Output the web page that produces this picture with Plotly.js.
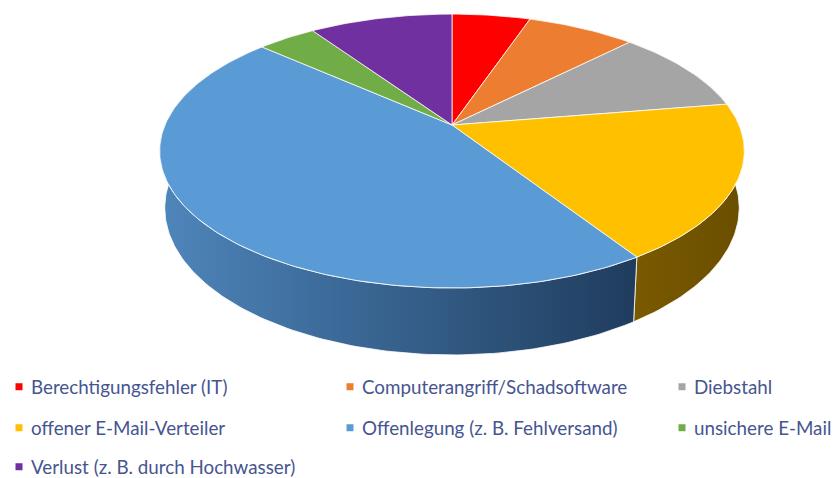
<!DOCTYPE html>
<html><head><meta charset="utf-8">
<script src="https://cdn.plot.ly/plotly-3.0.1.min.js"></script>
<style>
html,body{margin:0;padding:0;background:#fff}
#chart{width:834px;height:478px}
.legendpoints{transform:translateX(8px)}
</style></head><body><div id="chart"></div>
<script>
const categories = ['Berechtigungsfehler (IT)','Computerangriff/Schadsoftware','Diebstahl','offener E-Mail-Verteiler','Offenlegung (z. B. Fehlversand)','unsichere E-Mail','Verlust (z. B. durch Hochwasser)'];
const shares = [5.2,7.2,10,18.5,45.7,3.9,9.5];
const colors = ['#ff0000','#ed7d31','#a5a5a5','#ffc000','#5b9bd5','#70ad47','#7030a0'];
const sideColors = [
  [[0,'#800000'],[1,'#800000']],
  [[0,'#77401a'],[1,'#77401a']],
  [[0,'#555555'],[1,'#555555']],
  [[0,'#7a5a00'],[1,'#6a4e00']],
  [[0,'#4f86ba'],[0.3,'#3f6f9f'],[0.7,'#2d5279'],[1,'#1f3c5e']],
  [[0,'#3a5a24'],[1,'#3a5a24']],
  [[0,'#3a1852'],[1,'#3a1852']]
];
const legendX = [0,331,663];
const legendRows = [387,428,467];
const legendSlots = [[0,0],[1,0],[2,0],[0,1],[1,1],[2,1],[0,2]];

const W=834,H=478,cx=452,k=0.19;
const topRim={cy:125,a:287,b:132}, baseRim={cy:180,a:282,b:141.7};
function project(deg,r){
  const t=deg*Math.PI/180,X=Math.sin(t),Y=Math.cos(t),w=1+k*Y;
  return [cx+r.a*X/w, r.cy-r.b*Y/w];
}
function arc(a0,a1,r){
  const n=Math.max(2,Math.ceil(Math.abs(a1-a0))),pts=[];
  for(let i=0;i<=n;i++) pts.push(project(a0+(a1-a0)*i/n,r));
  return pts;
}
const total=shares.reduce((s,v)=>s+v,0);
let acc=0;
const ranges=shares.map(v=>{const a0=acc/total*360;acc+=v;return [a0,acc/total*360];});

const sides=ranges.map((g,i)=>{
  const p=arc(g[0],g[1],topRim).concat(arc(g[1],g[0],baseRim));
  p.push(p[0]);
  return {type:'scatter',mode:'lines',x:p.map(q=>q[0]),y:p.map(q=>q[1]),fill:'toself',
    fillgradient:{type:'horizontal',colorscale:sideColors[i]},
    line:{color:'#ffffff',width:0.8},hoverinfo:'skip',showlegend:false};
});
const tops=ranges.map((g,i)=>{
  const apex=[cx,topRim.cy];
  const p=[apex].concat(arc(g[0],g[1],topRim),[apex]);
  return {type:'scatter',mode:'lines',x:p.map(q=>q[0]),y:p.map(q=>q[1]),fill:'toself',
    fillcolor:colors[i],line:{color:'#ffffff',width:0.8},
    hoverinfo:'text',text:categories[i]+': '+shares[i]+' %',showlegend:false};
});
const keys=categories.map((c,i)=>({type:'scatter',mode:'markers',x:[null],y:[null],name:c,
  marker:{symbol:'square',size:7,color:colors[i]},showlegend:true,
  legend:i?('legend'+(i+1)):'legend',hoverinfo:'skip'}));

const layout={width:W,height:H,margin:{l:0,r:0,t:0,b:0,autoexpand:false},
  paper_bgcolor:'#fff',plot_bgcolor:'#fff',showlegend:true,
  xaxis:{range:[0,W],visible:false,fixedrange:true},
  yaxis:{range:[H,0],visible:false,fixedrange:true}};
legendSlots.forEach((s,i)=>{
  layout[i?('legend'+(i+1)):'legend']={x:legendX[s[0]]/W,y:1-legendRows[s[1]]/H,xanchor:'left',yanchor:'middle',
    indentation:-9,bgcolor:'rgba(0,0,0,0)',borderwidth:0,itemclick:false,itemdoubleclick:false,
    font:{family:'Lato, Carlito, sans-serif',size:18.8,color:'#46558f'}};
});
Plotly.newPlot('chart',sides.concat(tops,keys),layout,{displayModeBar:false,responsive:false});
</script></body></html>
